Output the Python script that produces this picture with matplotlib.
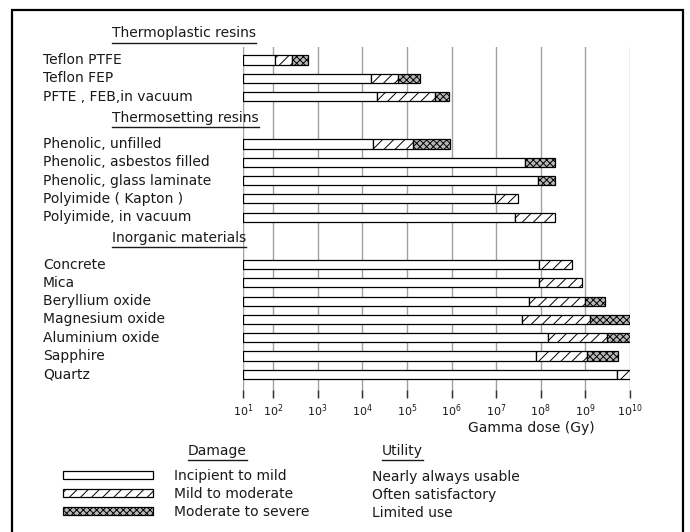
import numpy as np
import matplotlib
matplotlib.use("Agg")
import matplotlib.pyplot as plt
import matplotlib.transforms as mtransforms
from matplotlib.patches import Patch, Rectangle
from matplotlib.lines import Line2D

# 材料分组
groups = ["Thermoplastic resins", "Thermosetting resins", "Inorganic materials"]
materials = [
    "Teflon PTFE", "Teflon FEP", "PFTE , FEB,in vacuum",
    "Phenolic, unfilled", "Phenolic, asbestos filled", "Phenolic, glass laminate",
    "Polyimide ( Kapton )", "Polyimide, in vacuum",
    "Concrete", "Mica", "Beryllium oxide", "Magnesium oxide",
    "Aluminium oxide", "Sapphire", "Quartz",
]
group_of = [0, 0, 0, 1, 1, 1, 1, 1, 2, 2, 2, 2, 2, 2, 2]

# log10(剂量 Gy)，每个损伤阶段结束的位置；nan = 没有这一段
incipient_end = [2.04, 4.20, 4.33, 4.25, 7.65, 7.94, 6.98, 7.43,
                 7.97, 7.97, 7.74, 7.58, 8.17, 7.90, 9.71]
mild_end = [2.43, 4.80, 5.63, 5.14, np.nan, np.nan, 7.49, 8.32,
            8.69, 8.93, 9.00, 9.11, 9.49, 9.04, 10.0]
severe_end = [2.78, 5.30, 5.95, 5.97, 8.32, 8.32, np.nan, np.nan,
              np.nan, np.nan, 9.45, 10.0, 10.0, 9.74, np.nan]

exponents = [1, 2, 3, 4, 5, 6, 7, 8, 9, 10]
damage_labels = ["Incipient to mild", "Mild to moderate", "Moderate to severe"]
utility_labels = ["Nearly always usable", "Often satisfactory", "Limited use"]

W, H = 690, 532
X0 = 1.327        # 原图第一段(10^1 -> 10^2)被压缩了
GAP = 1.6         # 组与组之间的空行
INK = '#1a1a1a'


def fx(px):
    return px / W


def fy(py):
    return 1 - py / H


plt.rcParams['font.family'] = ['DejaVu Sans']
plt.rcParams['hatch.linewidth'] = 0.7

fig = plt.figure(figsize=(W / 100, H / 100), dpi=100)
ax = fig.add_axes([fx(243), fy(398), fx(630) - fx(243), fy(47) - fy(398)])

y = np.arange(len(materials)) + GAP * np.array(group_of)
inc = np.array(incipient_end)
mild = np.array(mild_end)
sev = np.array(severe_end)

bar_kw = dict(height=0.5, edgecolor='black', linewidth=0.9, zorder=3)
ax.barh(y, inc - X0, left=X0, color='white', **bar_kw)
m = ~np.isnan(mild)
ax.barh(y[m], mild[m] - inc[m], left=inc[m], color='white', hatch='///', **bar_kw)
start = np.where(np.isnan(mild), inc, mild)
s = ~np.isnan(sev)
ax.barh(y[s], sev[s] - start[s], left=start[s], color='#b8b8b8', hatch='xxxxx', **bar_kw)

ax.set_xlim(X0, 10)
ax.set_ylim(y[-1] + 1.3, -0.71)
tick_pos = [X0] + exponents[1:]
ax.set_xticks(tick_pos)
ax.set_xticklabels([r'$\mathregular{10^{%d}}$' % e for e in exponents], fontsize=8, color=INK)
ax.tick_params(axis='x', direction='in', length=6, width=1, color='#333333', pad=3)
ax.set_yticks([])
ax.grid(axis='x', color='#a0a0a0', linewidth=1.0, zorder=0)
ax.set_axisbelow(True)
for sp in ax.spines.values():
    sp.set_visible(False)

# 左边的材料名称
lab_tr = mtransforms.blended_transform_factory(fig.transFigure, ax.transData)
for yi, name in zip(y, materials):
    ax.text(fx(43), yi, name, transform=lab_tr, ha='left', va='center',
            fontsize=10, color=INK)

# 分组标题（带下划线）
headers = []
for g, title in enumerate(groups):
    first = y[group_of.index(g)]
    t = ax.text(fx(112), first - 1.45, title, transform=lab_tr, ha='left',
                va='center', fontsize=10, color=INK)
    headers.append(t)

fig.text(fx(531), fy(428), "Gamma dose (Gy)", ha='center', va='center',
         fontsize=10, color=INK)

# 图例
handles = [
    Patch(facecolor='white', edgecolor='black', linewidth=0.9),
    Patch(facecolor='white', edgecolor='black', linewidth=0.9, hatch='///'),
    Patch(facecolor='#b8b8b8', edgecolor='black', linewidth=0.9, hatch='xxxxx'),
]
fig.legend(handles=handles, labels=damage_labels, loc='upper left',
           bbox_to_anchor=(fx(63), fy(469)), bbox_transform=fig.transFigure,
           frameon=False, fontsize=10, handlelength=6.5, handleheight=0.5,
           handletextpad=1.5, labelspacing=0.3, borderpad=0, borderaxespad=0,
           labelcolor=INK)
for i, u in enumerate(utility_labels):
    fig.text(fx(372), fy(477 + 18 * i), u, ha='left', va='center',
             fontsize=10, color=INK)
headers.append(fig.text(fx(188), fy(451), "Damage", ha='left', va='center',
                        fontsize=10, color=INK))
headers.append(fig.text(fx(382), fy(451), "Utility", ha='left', va='center',
                        fontsize=10, color=INK))

# 下划线：按文字实际宽度画
fig.canvas.draw()
inv = fig.transFigure.inverted()
for t in headers:
    bb = t.get_window_extent()
    (x1, y1), (x2, _) = inv.transform([(bb.x0, bb.y0), (bb.x1, bb.y0)])
    fig.add_artist(Line2D([x1, x2], [y1 - 0.004, y1 - 0.004],
                          color=INK, linewidth=1.0))

# 外框
fig.add_artist(Rectangle((fx(12), -0.05), fx(683) - fx(12), fy(10) + 0.05,
                         fill=False, edgecolor='black', linewidth=1.6,
                         transform=fig.transFigure))

fig.savefig('out.png', dpi=100)
